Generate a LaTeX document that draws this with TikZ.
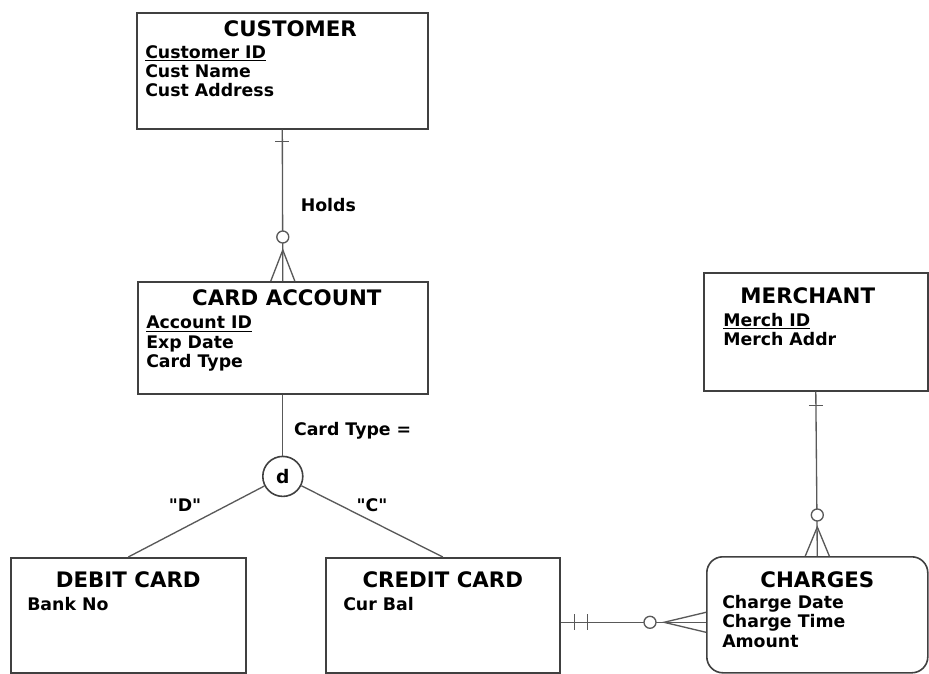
\documentclass[tikz,border=0pt]{standalone}
\usepackage{fontspec}
\setmainfont{DejaVu Sans}
\newfontfamily\quotefont{DejaVu Sans}
\usetikzlibrary{positioning, calc}

\begin{document}
\begin{tikzpicture}[
    x=0.75pt, y=-0.75pt,
    entity/.style={draw=black!75, line width=1.2pt, rectangle, anchor=north west, inner sep=0pt},
    ttl/.style={font=\fontsize{16}{18}\selectfont\bfseries, anchor=base, inner sep=0pt},
    attr/.style={font=\fontsize{13}{14.5}\selectfont\bfseries, align=left, anchor=north west, inner sep=0pt},
    lbl/.style={font=\fontsize{13}{14}\selectfont\bfseries, inner sep=0pt},
    rel/.style={draw=black!65, line width=1pt}
]
    \useasboundingbox (0,0) rectangle (929,674);

    % entities
    \node[entity, minimum width=218.25pt, minimum height=87pt] (customer) at (136,12) {};
    \node[entity, minimum width=217.5pt, minimum height=84pt] (cardacct) at (137,281) {};
    \node[entity, minimum width=176.25pt, minimum height=86.25pt] (debit) at (10,557) {};
    \node[entity, minimum width=175.5pt, minimum height=86.25pt] (credit) at (325,557) {};
    \node[entity, minimum width=168pt, minimum height=88.5pt] (merchant) at (703,272) {};
    \node[entity, rounded corners=12pt, minimum width=165.75pt, minimum height=87pt] (charges) at (706,556) {};

    \node[ttl] (customertitle) at ($(customer.north)+(8,25)$) {CUSTOMER};
    \node[attr] (customerattr) at ($(customer.north west)+(9,33)$) {\underline{Customer ID}\\Cust Name\\Cust Address};

    \node[ttl] (cardaccttitle) at ($(cardacct.north)+(4,24)$) {CARD ACCOUNT};
    \node[attr] (cardacctattr) at ($(cardacct.north west)+(9,35)$) {\underline{Account ID}\\Exp Date\\Card Type};

    \node[ttl] (debittitle) at ($(debit.north)+(0,30)$) {DEBIT CARD};
    \node[attr] (debitattr) at ($(debit.north west)+(17,40)$) {Bank No};

    \node[ttl] (credittitle) at ($(credit.north)+(0,30)$) {CREDIT CARD};
    \node[attr] (creditattr) at ($(credit.north west)+(18,40)$) {Cur Bal};

    \node[ttl] (merchanttitle) at ($(merchant.north)+(-8,31)$) {MERCHANT};
    \node[attr] (merchantattr) at ($(merchant.north west)+(20,41)$) {\underline{Merch ID}\\Merch Addr};

    \node[ttl] (chargestitle) at ($(charges.north)+(0,31)$) {CHARGES};
    \node[attr] (chargesattr) at ($(charges.north west)+(16,39)$) {Charge Date\\Charge Time\\Amount};

    % customer holds card account
    \draw[rel] (customer.south) -- (cardacct.north);
    \draw[rel] ($(customer.south)+(-7,12)$) -- ++(14,0);
    \draw[rel, fill=white] ($(cardacct.north)+(0,-44)$) circle (4.5pt);
    \draw[rel] ($(cardacct.north)+(-12,0)$) -- ($(cardacct.north)+(0,-31)$) -- ($(cardacct.north)+(12,0)$);
    \node[lbl, anchor=west] (holds) at ($(customer.south)!0.5!(cardacct.north)+(18,0)$) {Holds};

    % disjoint subtypes
    \node[draw=black!75, line width=1.2pt, circle, minimum size=30pt, inner sep=0pt,
          font=\fontsize{14}{14}\selectfont\bfseries, below=45.75pt of cardacct] (disj) {d};
    \draw[rel] (cardacct.south) -- (disj);
    \node[lbl, anchor=west] (cardtype) at ($(cardacct.south)!0.5!(disj.north)+(11,6)$) {Card Type =};
    \draw[rel] (disj) -- (debit.north);
    \draw[rel] (disj) -- (credit.north);
    \node[lbl, font=\quotefont\fontsize{13}{14}\selectfont\bfseries] (dlabel) at (185,505) {"D"};
    \node[lbl, font=\quotefont\fontsize{13}{14}\selectfont\bfseries] (clabel) at (372,505) {"C"};

    % merchant to charges
    \draw[rel] (merchant.south) -- (charges.north);
    \draw[rel] ($(merchant.south)+(-7,14)$) -- ++(14,0);
    \draw[rel, fill=white] ($(charges.north)+(0,-41)$) circle (4.5pt);
    \draw[rel] ($(charges.north)+(-12,0)$) -- ($(charges.north)+(0,-29)$) -- ($(charges.north)+(12,0)$);

    % credit card to charges
    \coordinate (ccl) at ($(credit.east)+(0,7)$);
    \coordinate (ccr) at (ccl -| charges.west);
    \draw[rel] (ccl) -- (ccr);
    \draw[rel] ($(ccl)+(14,-8)$) -- ++(0,16);
    \draw[rel] ($(ccl)+(27,-8)$) -- ++(0,16);
    \draw[rel, fill=white] ($(ccr)+(-56,0)$) circle (4.5pt);
    \draw[rel] ($(ccr)+(0,-10)$) -- ($(ccr)+(-42,0)$) -- ($(ccr)+(0,10)$);
\end{tikzpicture}
\end{document}
